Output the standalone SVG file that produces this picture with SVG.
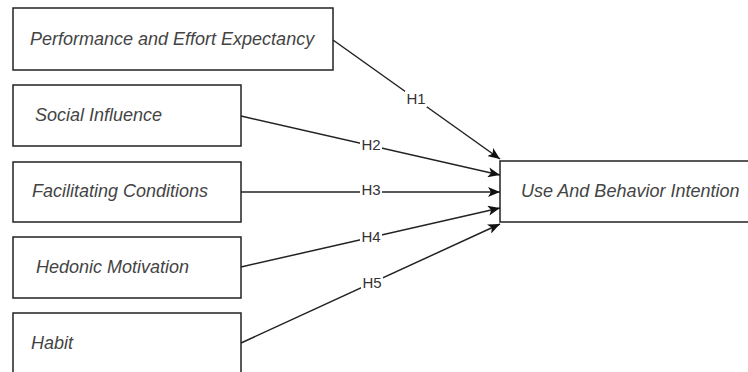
<svg xmlns="http://www.w3.org/2000/svg" width="748" height="372" viewBox="0 0 748 372">
<style>
.box{fill:#fff;stroke:#222;stroke-width:1.5}
.t{font-family:"Liberation Sans",Arial,sans-serif;font-style:italic;font-size:18px;fill:#444}
.c{fill:none;stroke:#222;stroke-width:1.5}
.lb{font-family:"Liberation Sans",Arial,sans-serif;font-size:15px;fill:#333;text-anchor:middle}
.bg{fill:#fff}
</style>
<defs>
<marker id="ah" viewBox="0 0 12 10" refX="12" refY="5" markerWidth="12" markerHeight="10" markerUnits="userSpaceOnUse" orient="auto">
<path d="M0,0 L12,5 L0,10 L3,5 Z" fill="#111"/>
</marker>
</defs>
<rect width="748" height="372" fill="#fff"/>
<g id="n1"><rect class="box" x="13" y="8" width="320" height="62"/><text class="t" x="30" y="45">Performance and Effort Expectancy</text></g>
<g id="n2"><rect class="box" x="13" y="85" width="228" height="61"/><text class="t" x="35" y="121">Social Influence</text></g>
<g id="n3"><rect class="box" x="13" y="162" width="228" height="60"/><text class="t" x="32" y="197">Facilitating Conditions</text></g>
<g id="n4"><rect class="box" x="13" y="237" width="228" height="61"/><text class="t" x="36" y="273">Hedonic Motivation</text></g>
<g id="n5"><rect class="box" x="13" y="313" width="228" height="70"/><text class="t" x="31" y="349">Habit</text></g>
<g id="n6"><rect class="box" x="500" y="161" width="260" height="61"/><text class="t" x="521" y="197">Use And Behavior Intention</text></g>
<g id="connectors">
<line class="c" x1="333" y1="40" x2="500" y2="159" marker-end="url(#ah)"/>
<line class="c" x1="241" y1="116" x2="500" y2="175" marker-end="url(#ah)"/>
<line class="c" x1="241" y1="192" x2="500" y2="192" marker-end="url(#ah)"/>
<line class="c" x1="241" y1="267" x2="500" y2="208" marker-end="url(#ah)"/>
<line class="c" x1="241" y1="343" x2="500" y2="224" marker-end="url(#ah)"/>
<rect class="bg" x="405" y="91" width="22" height="16"/><text class="lb" x="416" y="104">H1</text>
<rect class="bg" x="360" y="138" width="22" height="15"/><text class="lb" x="371" y="150">H2</text>
<rect class="bg" x="360" y="183" width="22" height="15"/><text class="lb" x="371" y="195">H3</text>
<rect class="bg" x="360" y="230" width="22" height="15"/><text class="lb" x="371" y="242">H4</text>
<rect class="bg" x="361" y="276" width="22" height="15"/><text class="lb" x="372" y="288">H5</text>
</g>
</svg>
